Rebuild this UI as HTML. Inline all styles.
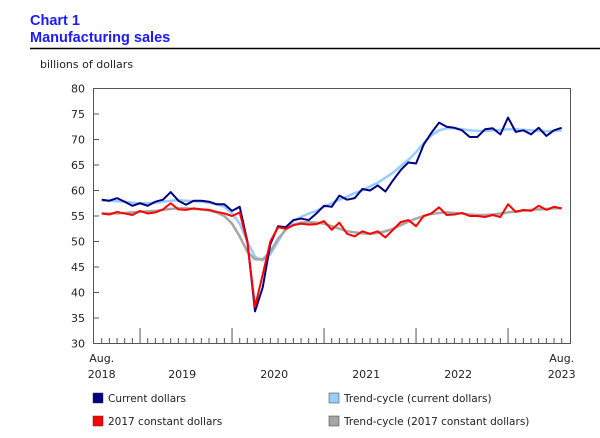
<!DOCTYPE html>
<html><head><meta charset="utf-8"><style>
body{margin:0;background:#fff;width:600px;height:434px;overflow:hidden;font-family:"DejaVu Sans","Liberation Sans",sans-serif}
</style></head><body>
<svg width="600" height="434" xmlns="http://www.w3.org/2000/svg">
<text x="30" y="25" font-family="Liberation Sans, sans-serif" font-weight="bold" font-size="14.5" fill="#1a1aff">Chart 1</text>
<text x="30" y="42" font-family="Liberation Sans, sans-serif" font-weight="bold" font-size="14.5" fill="#1a1aff">Manufacturing sales</text>
<line x1="30" y1="48.5" x2="600" y2="48.5" stroke="#000" stroke-width="1.5"/>
<text x="40" y="68" font-size="11" fill="#222">billions of dollars</text>
<rect x="93.5" y="88.5" width="477" height="255" fill="none" stroke="#555" stroke-width="1"/>
<g id="axes"></g>
<g id="series"></g>
<g id="legend" font-size="10.5" fill="#222">
<rect x="93" y="393" width="10" height="10" fill="#000080" stroke="#333" stroke-width="0.5"/>
<text x="108" y="402">Current dollars</text>
<rect x="93" y="416" width="10" height="10" fill="#ff0000" stroke="#333" stroke-width="0.5"/>
<text x="108" y="425">2017 constant dollars</text>
<rect x="329" y="393" width="10" height="10" fill="#99ccff" stroke="#333" stroke-width="0.5"/>
<text x="344" y="402">Trend-cycle (current dollars)</text>
<rect x="329" y="416" width="10" height="10" fill="#a6a6a6" stroke="#333" stroke-width="0.5"/>
<text x="344" y="425">Trend-cycle (2017 constant dollars)</text>
</g>
</svg>
<script>
const yTicks=[30,35,40,45,50,55,60,65,70,75,80];
const yearLabels=["2019","2020","2021","2022"];
const current=[58.2,58.0,58.5,57.8,57.0,57.5,57.0,57.8,58.2,59.7,58.0,57.2,58.0,58.0,57.8,57.3,57.3,56.0,56.8,50.0,36.3,41.0,49.5,53.0,52.8,54.2,54.5,54.2,55.5,57.0,56.8,59.0,58.2,58.5,60.3,60.0,61.0,59.8,62.0,64.0,65.5,65.3,69.0,71.3,73.3,72.5,72.3,71.8,70.5,70.5,72.0,72.2,71.0,74.3,71.5,71.8,71.0,72.3,70.7,71.8,72.3];
const trendCurrent=[58.0,58.0,57.9,57.8,57.6,57.5,57.5,57.6,57.8,58.0,58.1,58.0,57.9,57.8,57.6,57.3,56.8,55.5,53.5,50.0,47.0,46.3,47.5,50.0,52.5,54.0,54.8,55.5,56.0,56.8,57.5,58.2,58.8,59.5,60.0,60.8,61.5,62.5,63.5,64.8,66.0,67.5,69.3,70.8,71.8,72.2,72.2,72.0,71.8,71.7,71.7,71.8,71.9,72.0,72.0,71.9,71.8,71.7,71.6,71.7,71.8];
const constant=[55.5,55.3,55.8,55.5,55.2,56.0,55.5,55.7,56.3,57.5,56.3,56.2,56.5,56.3,56.2,55.8,55.5,55.0,55.7,49.8,37.2,43.5,50.0,52.8,52.5,53.2,53.5,53.3,53.4,54.0,52.3,53.7,51.5,51.0,52.0,51.5,52.0,50.8,52.3,53.8,54.2,53.0,55.0,55.5,56.7,55.2,55.3,55.6,55.0,55.0,54.8,55.2,54.8,57.3,55.8,56.2,56.0,57.0,56.2,56.8,56.5];
const trendConstant=[55.5,55.5,55.5,55.6,55.7,55.8,55.9,56.0,56.2,56.4,56.5,56.5,56.4,56.3,56.1,55.7,55.0,53.5,51.0,48.0,46.5,46.5,48.0,50.5,52.3,53.3,53.7,53.8,53.7,53.5,53.0,52.5,52.0,51.8,51.6,51.5,51.7,52.0,52.5,53.2,53.9,54.5,55.0,55.4,55.6,55.7,55.6,55.5,55.3,55.2,55.2,55.3,55.5,55.7,55.9,56.0,56.2,56.3,56.4,56.5,56.5];

const NS="http://www.w3.org/2000/svg";
const x=i=>101.7+i*92/12;
const y=v=>343.5-(v-30)*5.1;
const axes=document.getElementById('axes'), ser=document.getElementById('series');
function mk(tag,attrs,parent){const e=document.createElementNS(NS,tag);for(const k in attrs)e.setAttribute(k,attrs[k]);parent.appendChild(e);return e;}
yTicks.forEach(v=>{
  const t=mk('text',{x:85,y:y(v)+4,'text-anchor':'end','font-size':'11',fill:'#222'},axes);
  t.textContent=v;
  
  
  const l=mk('line',{x1:93.5,x2:99,y1:y(v),y2:y(v),stroke:'#555'},axes);
  
  
});
for(let i=0;i<current.length;i++){
  const month=(7+i)%12;
  const big=month===0;
  const l=mk('line',{x1:x(i),x2:x(i),y1:343.5,y2:big?328:338,stroke:'#555'},axes);
  
  
}
function lbl(txt,xx,yy,anchor,name){const t=mk('text',{x:xx,y:yy,'text-anchor':anchor,'font-size':'11',fill:'#222'},axes);t.textContent=txt;
  
  }
lbl('Aug.',x(0),362,'middle','x-label-start-month');
lbl('2018',x(0),378,'middle','x-label-start-year');
yearLabels.forEach((yr,k)=>lbl(yr,x(5+12*k+5.5),378,'middle','x-year-label'));
lbl('Aug.',x(60),362,'middle','x-label-end-month');
lbl('2023',x(60),378,'middle','x-label-end-year');
function line(arr,color,w,name){
  const p=mk('polyline',{points:arr.map((v,i)=>x(i)+','+y(v)).join(' '),fill:'none',stroke:color,'stroke-width':w,'stroke-linejoin':'round'},ser);
  
  
}
line(trendCurrent,'#99ccff',2.5,'trend-current-line');
line(trendConstant,'#a6a6a6',2.5,'trend-constant-line');
line(current,'#000080',2,'current-dollars-line');
line(constant,'#ff0000',2,'constant-dollars-line');
</script>
</body></html>
